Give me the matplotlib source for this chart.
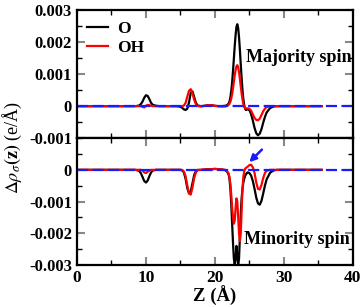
import matplotlib
matplotlib.use("Agg")
import matplotlib.pyplot as plt
from matplotlib.ticker import MultipleLocator

plt.rcParams['font.family'] = ['Liberation Serif', 'DejaVu Serif']
plt.rcParams['mathtext.fontset'] = 'stix'

# z grid (Angstrom) shared by all curves
z = [0, 2, 4, 6, 8, 8.5, 9, 9.25, 9.5, 9.75, 10, 10.25, 10.5, 10.75, 11, 11.5,
     12, 13, 14, 14.5, 15, 15.25, 15.5, 15.75, 16, 16.25, 16.5, 16.75, 17, 17.25,
     17.5, 18, 18.5, 19, 19.5, 20, 20.5, 21, 21.5, 21.75, 22, 22.125, 22.25,
     22.375, 22.5, 22.625, 22.75, 22.875, 23, 23.125, 23.25, 23.375, 23.5,
     23.625, 23.75, 23.875, 24, 24.125, 24.25, 24.375, 24.5, 24.75, 25, 25.25,
     25.5, 25.75, 26, 26.25, 26.5, 26.75, 27, 27.25, 27.5, 28, 28.5, 29, 30,
     32, 34, 35.5]

# majority spin
o_up = [0, 0, 0, 0, 0, 0, 0.00002, 0.00006, 0.00014, 0.00026, 0.00034, 0.00032,
        0.00022, 0.0001, 0.00004, 0.00001,
        0, 0, 0, 0, -0.00002, -0.00005, -0.0001, -0.00012, -0.00008, 0.00012,
        0.00042, 0.00046, 0.00028, 0.0001,
        0.00002, 0, 0.00001, 0.00003, 0.00003, 0.00001, 0, 0, 0.00001, 0.00003,
        0.00008, 0.00015, 0.00028,
        0.00048, 0.00075, 0.0011, 0.00148, 0.00188, 0.00222, 0.00248, 0.00256,
        0.00244, 0.00215,
        0.00175, 0.0013, 0.00088, 0.0005, 0.00022, 0.00003, -0.00008, -0.00012,
        -0.0001, -0.00012, -0.00025,
        -0.00045, -0.00068, -0.00085, -0.00091, -0.00086, -0.00072, -0.00052,
        -0.00034, -0.0002, -0.00006, -0.00001, 0, 0,
        0, 0, 0]
oh_up = [0, 0, 0, 0, 0, 0, 0, 0, -0.00002, -0.00004, 0.00001, 0.00004,
         0.00003, 0.00001, 0, 0,
         0, 0, 0, 0, 0, 0, 0.00002, 0.0001, 0.0003, 0.00048, 0.00053, 0.0004,
         0.0002, 0.00006,
         0, -0.00001, 0.00001, 0.00003, 0.00003, 0.00001, 0, -0.00001, -0.00001,
         0.00001, 0.00004, 0.00008, 0.00014,
         0.00024, 0.00038, 0.00056, 0.00076, 0.00096, 0.00113, 0.00124, 0.00128,
         0.00122, 0.00106,
         0.00085, 0.00062, 0.0004, 0.00021, 0.00007, -0.00002, -0.00006,
         -0.00007, -0.00007, -0.00008, -0.00014,
         -0.00026, -0.00037, -0.00043, -0.00044, -0.00039, -0.00028, -0.00016,
         -0.00008, -0.00003, 0, 0, 0, 0,
         0, 0, 0]

# minority spin
o_dn = [0, 0, 0, 0, 0, 0, -0.00003, -0.0001, -0.00022, -0.00035, -0.0004,
        -0.00034, -0.0002, -0.00008, -0.00002, 0,
        0, 0, 0, 0, 0, -0.00002, -0.00008, -0.00028, -0.00058, -0.00074,
        -0.00068, -0.00042, -0.00016, -0.00004,
        0, 0, 0.00001, 0.00002, 0.00002, 0.00003, 0.00002, 0.00001, -0.00001,
        -0.00005, -0.00015, -0.0003, -0.0006,
        -0.0011, -0.0017, -0.0023, -0.0028, -0.003, -0.0028, -0.0024, -0.0027,
        -0.003, -0.0028,
        -0.0021, -0.0014, -0.0009, -0.0006, -0.0004, -0.00028, -0.0002,
        -0.00014, -0.00008, -0.0001, -0.00018,
        -0.00035, -0.0006, -0.00088, -0.00106, -0.0011, -0.00098, -0.00075,
        -0.0005, -0.0003, -0.00009, -0.00002, 0, 0,
        0, 0, 0]
oh_dn = [0, 0, 0, 0, 0, 0, 0, 0, -0.00002, -0.00008, -0.0001, -0.00006,
         -0.00002, 0, 0, 0,
         0, 0, 0, 0, 0, 0, -0.00005, -0.0002, -0.0005, -0.00075, -0.00078,
         -0.00055, -0.00025, -0.00008,
         -0.00001, 0, 0.00001, 0.00002, 0.00002, 0.00003, 0.00002, 0.00001, 0,
         -0.00004, -0.00012, -0.00025, -0.00045,
         -0.0008, -0.0012, -0.0015, -0.0017, -0.0016, -0.0012, -0.0009, -0.001,
         -0.0015, -0.002,
         -0.00225, -0.002, -0.0013, -0.0006, -0.00022, -0.00005, 0.00003,
         0.00006, 0.0001, 0.00015, 0.00016,
         0.00008, -0.0001, -0.0004, -0.0006, -0.00062, -0.00048, -0.00026,
         -0.0001, -0.00003, 0, 0, 0, 0,
         0, 0, 0]

fig = plt.figure(figsize=(3.63, 3.07), dpi=100)
ax1 = fig.add_axes([0.212, 0.55, 0.76, 0.417])
ax2 = fig.add_axes([0.212, 0.137, 0.76, 0.413])

for ax, yo, yoh, lim in [(ax1, o_up, oh_up, (-0.001, 0.003)),
                         (ax2, o_dn, oh_dn, (-0.003, 0.001))]:
    ax.plot(z, yo, color='black', lw=1.6, label='O')
    ax.plot(z, yoh, color='red', lw=1.6, label='OH')
    ax.axhline(0, color='#1a1aff', lw=1.6, dashes=(5, 2))
    ax.set_xlim(0, 40)
    ax.set_ylim(*lim)
    ax.xaxis.set_major_locator(MultipleLocator(10))
    ax.xaxis.set_minor_locator(MultipleLocator(5))
    ax.yaxis.set_major_locator(MultipleLocator(0.001))
    ax.yaxis.set_minor_locator(MultipleLocator(0.0005))
    ax.tick_params(which='both', direction='in', top=True, right=True)
    ax.tick_params(which='major', length=6, width=1.5, color='#888888')
    ax.tick_params(which='minor', length=3.5, width=1, color='black')
    for s in ax.spines.values():
        s.set_linewidth(1.6)

ax1.set_yticks([-0.001, 0, 0.001, 0.002, 0.003])
ax1.set_yticklabels(['-0.001', '0', '0.001', '0.002', '0.003'],
                    fontweight='bold', fontsize=12)
ax1.tick_params(labelbottom=False)
ax2.set_yticks([-0.003, -0.002, -0.001, 0])
ax2.set_yticklabels(['-0.003', '-0.002', '-0.001', '0'],
                    fontweight='bold', fontsize=12)
ax2.set_xticks([0, 10, 20, 30, 40])
ax2.set_xticklabels(['0', '10', '20', '30', '40'], fontweight='bold', fontsize=12.5)

ax1.legend(loc='upper left', frameon=False, handlelength=1.2, handletextpad=0.5,
           labelspacing=0.2, borderaxespad=0.2,
           prop={'weight': 'bold', 'size': 12.5})
ax1.text(39.8, 0.00153, 'Majority spin', ha='right', va='center',
         fontweight='bold', fontsize=13)
ax2.text(39.6, -0.0022, 'Minority spin', ha='right', va='center',
         fontweight='bold', fontsize=13)
ax2.annotate('', xy=(24.7, 0.00018), xytext=(27.1, 0.0007),
             arrowprops=dict(arrowstyle='-|>', color='#1a1aff', lw=1.8,
                             mutation_scale=10))

ax2.set_xlabel('Z (Å)', fontweight='bold', fontsize=13.5, labelpad=0)
fig.text(0.035, 0.52, r'$\Delta\rho_{\sigma}\mathbf{(z)}$ (e/Å)', rotation=90,
         ha='center', va='center', fontsize=13)

fig.savefig('out.png', dpi=100)
